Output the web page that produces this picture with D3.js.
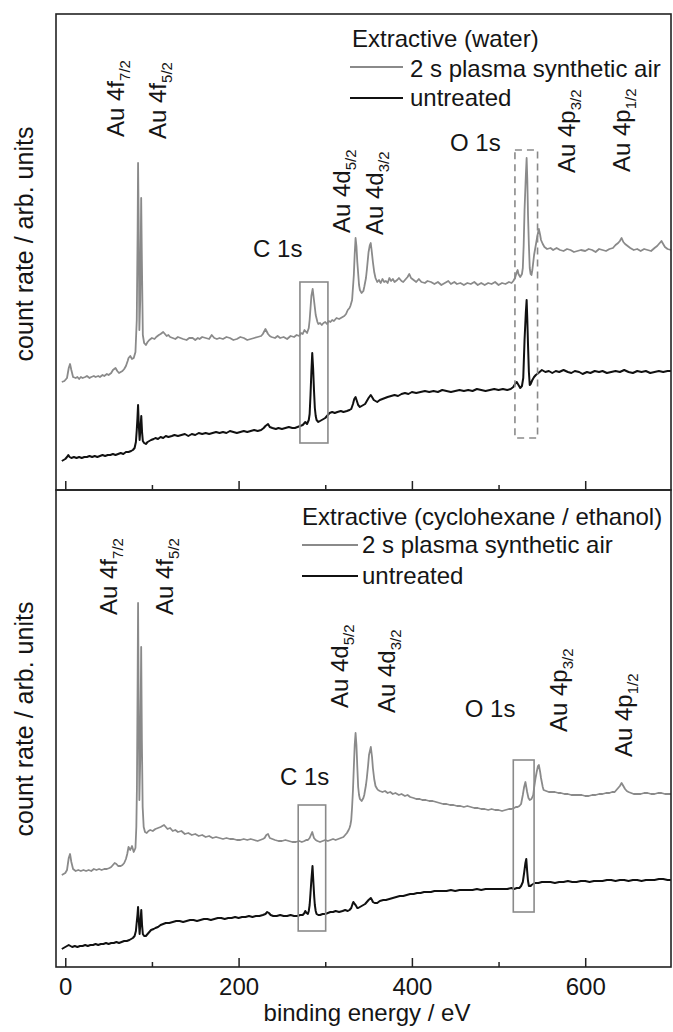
<!DOCTYPE html>
<html lang="en">
  <head>
    <title>XPS survey spectra</title>
    <meta charset="utf-8">
    <script src="https://d3js.org/d3.v7.min.js"></script>
    <style>
      body { margin: 0; background: #fff; }
      text { font-family: "Liberation Sans", Arial, sans-serif; fill: #151515; }
    </style>
  </head>
  <body>
    <div id="chart"></div>
    <script>

      // binding energy (eV), count rate (arb. units)
      const waterPlasma = [[-4,108],[-1,109],[2,112],[4,122],[5.5,126],[7,120],[9,113],[12,112],[14,113],[16,111],[18,113],[20,112],[23,113],[25,114],[28,112],[30,113],[33,114],[35,113],[38,114],[40,113],[43,115],[45,114],[48,116],[50,115],[53,117],[55,120],[58,122],[60,119],[62,117],[64,118],[66,119],[68,121],[70,124],[72,129],[73,132],[75,134],[77,131],[79,132],[81,138],[82.5,170],[83.5,260],[84,327],[84.7,270],[85.5,160],[86.5,190],[87.6,292],[88.4,230],[89.5,155],[91,147],[93,145],[95,148],[97,150],[100,152],[103,151],[105,153],[108,155],[110,156],[113,158],[115,156],[117,154],[119,155],[121,153],[124,152],[127,151],[130,153],[133,152],[136,151],[140,150],[143,152],[147,152],[150,150],[153,152],[155,151],[158,153],[162,152],[166,151],[169,155],[172,152],[175,151],[178,152],[182,151],[186,153],[190,152],[194,150],[198,151],[202,153],[206,152],[210,150],[214,151],[218,152],[222,153],[226,154],[228,156],[231,161],[234,156],[236,154],[238,153],[242,152],[245,154],[248,152],[252,153],[256,151],[260,154],[264,153],[267,155],[270,154],[272,157],[274,156],[276,160],[279,157],[281,162],[282,170],[283,182],[284,194],[285.5,201],[287,190],[289,175],[291,168],[292,166],[294,167],[296,165],[298,167],[300,168],[302,166],[304,169],[306,168],[308,170],[310,169],[313,172],[316,171],[318,172],[320,173],[322,174],[324,176],[326,180],[328,182],[329,184],[331,190],[333,215],[334,236],[335,252],[336,244],[337,228],[339,205],[340,200],[342,197],[344,199],[345,203],[347,212],[348,220],[350,238],[351.5,245],[352.5,247],[353.5,240],[355,228],[356.5,218],[358,212],[360,208],[362,210],[364,207],[366,211],[368,208],[370,209],[372,207],[374,212],[376,209],[378,211],[380,208],[383,210],[385,212],[388,209],[390,208],[393,211],[395,213],[397,216],[399,212],[402,210],[405,208],[408,211],[411,208],[415,207],[418,209],[422,208],[426,206],[430,208],[434,205],[438,207],[442,209],[445,206],[449,208],[452,206],[456,207],[460,205],[464,207],[468,206],[472,208],[476,205],[480,207],[484,205],[488,207],[492,206],[496,208],[500,205],[504,207],[508,206],[512,208],[515,207],[517,209],[519,212],[521,218],[522,220],[523,216],[525,213],[527,216],[528,222],[529,245],[530,280],[531.5,315],[532.4,332],[533.2,310],[534,275],[535,245],[536,222],[537,216],[538,215],[539,220],[541,235],[543,245],[545,255],[546.5,261],[548,255],[549,250],[551,246],[553,243],[556,241],[560,242],[563,240],[567,242],[571,240],[575,239],[579,241],[583,240],[587,238],[591,239],[595,240],[600,239],[604,241],[608,240],[612,238],[616,241],[620,240],[624,239],[628,241],[632,242],[635,245],[638,247],[640,249],[642,252],[644,248],[646,246],[649,244],[652,242],[656,240],[660,241],[664,239],[668,241],[672,240],[676,239],[680,242],[683,244],[686,247],[688,249],[690,246],[692,243],[695,241],[699,240]]

      const waterUntreated = [[-4,29],[-2,30],[0,31],[2,33],[3.5,35],[5,33],[7,32],[10,33],[13,32],[16,33],[19,32],[22,33],[25,33],[28,34],[31,33],[34,34],[37,33],[40,34],[43,35],[46,34],[49,35],[52,35],[55,36],[58,35],[61,36],[64,37],[67,36],[70,38],[73,38],[76,39],[78,40],[80,42],[81.5,48],[82.5,60],[83.3,72],[84,85],[84.8,66],[85.8,50],[86.8,62],[87.7,74],[88.6,58],[89.5,49],[91,47],[93,46],[95,48],[97,49],[99,50],[102,51],[104,52],[107,51],[110,53],[113,52],[116,54],[119,53],[123,54],[126,55],[130,54],[134,55],[138,56],[142,54],[146,56],[150,55],[154,57],[158,56],[162,57],[166,56],[170,57],[174,58],[178,57],[182,58],[186,57],[190,59],[194,58],[198,57],[202,58],[206,59],[210,58],[214,59],[218,60],[222,59],[226,60],[229,62],[231,64],[234,66],[236,63],[239,62],[243,61],[246,62],[250,61],[254,62],[258,63],[262,62],[265,62],[268,63],[271,64],[274,65],[276,67],[277,68],[279,66],[281,70],[282,76],[283,95],[284,118],[285,137],[286,122],[287,100],[288,82],[289,74],[290,70],[292,68],[294,69],[296,70],[298,71],[300,72],[302,74],[305,77],[308,78],[311,77],[314,78],[318,79],[321,78],[325,79],[328,80],[330,81],[332,86],[333.5,91],[335,93],[336.5,89],[338,85],[340,83],[342,84],[344,85],[346,86],[348,89],[350,92],[352.5,95],[354,93],[356,90],[358,89],[360,88],[363,90],[366,91],[369,92],[372,93],[376,94],[380,95],[384,94],[388,96],[392,97],[396,96],[400,98],[405,97],[410,98],[415,99],[420,98],[425,99],[430,98],[435,100],[440,99],[445,98],[450,99],[455,100],[460,99],[465,100],[470,99],[475,101],[480,100],[485,99],[490,100],[495,101],[500,100],[505,101],[510,100],[514,101],[517,103],[519,106],[521,108],[523,105],[525,102],[527,104],[528.5,112],[530,150],[531.5,178],[532.4,190],[533.2,170],[534,145],[535,118],[536,105],[537,106],[539,110],[541,113],[543,115],[546,117],[550,120],[554,118],[558,119],[562,117],[566,119],[570,118],[575,120],[580,118],[584,117],[588,119],[593,118],[597,116],[602,118],[606,117],[611,119],[616,118],[620,119],[625,117],[630,118],[635,119],[640,118],[645,120],[650,118],[655,117],[660,119],[665,118],[670,119],[675,117],[680,118],[685,119],[690,118],[695,119],[699,119]]

      const cycloPlasma = [[-4,92],[-2,93],[0,94],[2,97],[4,109],[5.5,113],[7,105],[9,98],[12,96],[15,97],[18,96],[21,97],[24,96],[27,97],[30,96],[33,98],[36,97],[39,98],[42,97],[45,98],[48,98],[51,99],[53,100],[55,102],[57,104],[59,103],[61,101],[64,101],[66,102],[68,104],[70,108],[71.5,113],[73,120],[75,117],[77,121],[79,115],[81,119],[82,140],[82.7,180],[83.5,287],[84,364],[84.7,267],[85.5,167],[86.5,207],[87.6,320],[88.4,227],[89.3,160],[90.5,140],[92,135],[94,134],[96,136],[98,137],[101,136],[104,138],[107,139],[110,140],[112,141],[114,142],[116,140],[118,138],[121,139],[124,136],[127,137],[130,135],[134,136],[138,133],[142,134],[146,132],[150,133],[154,131],[158,132],[162,130],[166,131],[170,129],[174,130],[178,129],[182,128],[186,129],[190,128],[194,128],[198,127],[202,127],[206,128],[210,127],[214,128],[218,127],[222,126],[225,127],[228,128],[230,129],[232,132],[234,133],[236,129],[239,128],[242,127],[246,126],[250,126],[254,127],[258,126],[262,125],[266,125],[270,126],[273,125],[276,126],[278,127],[280,127],[282,129],[284,133],[285,135],[286,132],[287,129],[289,127],[291,126],[294,125],[297,126],[300,127],[303,126],[306,127],[309,128],[312,127],[315,128],[318,129],[321,130],[323,132],[325,134],[327,137],[328,139],[329,142],[330,147],[331,160],[332,177],[333,200],[334,222],[335,234],[336,222],[337,200],[338,180],[339,172],[340,168],[342,166],[344,169],[345,172],[347,182],[348,189],[349.5,202],[350.5,212],[352.6,220],[354,210],[355,199],[356.5,188],[358,181],[360,178],[361,177],[363,176],[366,175],[369,176],[372,174],[375,175],[378,173],[381,174],[385,172],[388,173],[392,171],[395,172],[398,170],[402,169],[405,168],[409,168],[412,167],[416,167],[420,166],[424,166],[428,165],[432,164],[436,163],[440,163],[444,162],[448,162],[452,161],[456,161],[460,160],[464,161],[468,160],[472,159],[476,159],[480,158],[484,158],[488,157],[492,158],[496,157],[500,157],[504,156],[508,157],[512,158],[515,158],[518,159],[520,160],[522,160],[524,161],[526,163],[528,172],[529.5,180],[531,185],[532,180],[533,175],[534.5,169],[536,167],[538,168],[540,172],[541,179],[542.5,188],[544,195],[545.5,201],[546.5,202],[548,195],[549,189],[551,180],[552,177],[555,176],[558,175],[562,175],[565,175],[569,174],[572,174],[576,173],[580,173],[584,172],[588,172],[592,172],[596,172],[600,171],[604,171],[608,172],[612,172],[616,173],[620,173],[624,174],[628,174],[631,175],[634,175],[636,177],[638,179],[640,181],[642,184],[644,181],[646,178],[648,176],[650,175],[653,174],[656,173],[660,173],[664,173],[668,174],[672,174],[676,173],[680,173],[684,174],[688,174],[692,173],[695,173],[699,173]]

      const cycloUntreated = [[-4,18],[-2,19],[0,20],[2,21],[4,22],[6,21],[8,20],[11,21],[14,20],[17,21],[20,21],[23,22],[26,21],[29,22],[32,22],[35,23],[38,22],[41,23],[44,23],[47,24],[50,23],[53,24],[56,24],[59,25],[62,24],[65,25],[68,26],[71,26],[74,27],[76,28],[78,29],[80,31],[81.5,36],[82.5,45],[83.3,52],[84,60],[84.8,47],[85.8,33],[86.8,45],[87.7,57],[88.6,42],[89.5,33],[91,31],[93,31],[95,33],[97,35],[99,37],[102,38],[104,39],[107,40],[110,42],[113,43],[116,44],[120,44],[124,45],[128,46],[132,46],[136,45],[140,46],[144,47],[148,47],[152,46],[156,47],[160,48],[164,48],[168,47],[172,48],[176,49],[180,49],[184,48],[188,49],[192,49],[196,50],[200,49],[204,50],[208,50],[212,51],[216,50],[220,51],[224,51],[228,52],[231,53],[233,55],[235,54],[237,52],[240,51],[244,51],[248,52],[252,51],[256,51],[260,52],[264,51],[268,51],[271,52],[274,52],[276,54],[277,56],[278.5,54],[280,53],[281,56],[282,62],[283,74],[284,87],[285.3,101],[286.5,82],[287.3,70],[288,62],[289,56],[290,53],[292,52],[294,52],[297,53],[300,53],[303,54],[306,55],[309,55],[312,56],[316,55],[320,56],[323,57],[326,56],[328,57],[330,59],[331.5,63],[332.5,65],[334,63],[335,62],[337,59],[338,59],[340,60],[342,61],[344,62],[346,63],[348,65],[350,67],[352.6,69],[354,67],[355,65],[357,64],[360,64],[363,66],[367,67],[370,67],[374,68],[378,69],[382,70],[386,71],[390,71],[394,72],[398,73],[402,73],[406,74],[410,74],[414,75],[418,75],[422,75],[426,76],[430,76],[435,76],[440,76],[445,77],[450,76],[455,77],[460,77],[465,77],[470,77],[475,78],[480,77],[485,78],[490,78],[495,78],[500,78],[505,78],[510,78],[515,79],[518,78],[521,79],[524,79],[526,81],[528,85],[529.5,94],[531,104],[532,108],[533,96],[534,86],[535,81],[537,81],[538,82],[540,83],[542,84],[546,84],[550,85],[555,85],[560,85],[565,84],[570,85],[575,85],[580,86],[585,85],[590,85],[595,86],[600,86],[605,85],[610,86],[615,86],[620,86],[625,87],[630,87],[635,86],[640,87],[645,87],[650,86],[655,87],[660,87],[665,86],[670,87],[675,87],[680,87],[685,88],[690,88],[695,87],[699,87]]

      const majorTicks = [0, 200, 400, 600]
      const minorTicks = [100, 300, 500]
      const seriesNames = ['2 s plasma synthetic air', 'untreated']
      const panelTitles = ['Extractive (water)', 'Extractive (cyclohexane / ethanol)']

      // peak labels: [name, subscript, energy, height] per panel
      const waterPeaks = [['Au 4f','7/2',67.7,353],['Au 4f','5/2',116,351],['Au 4d','5/2',328.5,257],['Au 4d','3/2',366.5,255],['Au 4p','3/2',588,317],['Au 4p','1/2',652,318]]
      const cycloPeaks = [['Au 4f','7/2',59.7,352],['Au 4f','5/2',124.3,352],['Au 4d','5/2',326.2,259],['Au 4d','3/2',380.4,254],['Au 4p','3/2',579,235],['Au 4p','1/2',654,210]]
      const waterLines = [['C 1s',216.7,233],['O 1s',444,339]]
      const cycloLines = [['C 1s',247.7,182],['O 1s',461,250]]
      // highlight boxes: [e0, e1, v0, v1, dashed]
      const waterBoxes = [[270.8,303.1,47,208,false],[518.9,545,52,340,true]]
      const cycloBoxes = [[268.8,300.5,36,162,false],[517,541,55,207,false]]

      const largura = 673, altura = 1032
      const gray = '#8a8a8a', dark = '#111'

      const panels = [
        { top: 14, bottom: 490, yMax: 476, data: [waterPlasma, waterUntreated], title: panelTitles[0],
          peaks: waterPeaks, lines: waterLines, boxes: waterBoxes, labels: false,
          legend: { x: 350, len: 53, textX: 410, titleX: 352, titleY: 47, rows: [[67, 77], [98, 106]] }, yLabel: 244 },
        { top: 490, bottom: 967, yMax: 477, data: [cycloPlasma, cycloUntreated], title: panelTitles[1],
          peaks: cycloPeaks, lines: cycloLines, boxes: cycloBoxes, labels: true,
          legend: { x: 302, len: 56, textX: 362, titleX: 302, titleY: 525, rows: [[545, 553], [576, 584]] }, yLabel: 719 }
      ]

      const svg = d3.select('#chart')
        .append('svg')
          .attr('width', largura)
          .attr('height', altura)

      const x = d3.scaleLinear()
        .domain([-10.7, 699])
        .range([56, 671])

      panels.forEach((p, i) => {
        const y = d3.scaleLinear()
          .domain([0, p.yMax])
          .range([p.bottom, p.top])

        const g = svg.append('g')

        const line = d3.line()
          .x(d => x(d[0]))
          .y(d => y(d[1]))

        g.selectAll('path.spec')
          .data(p.data)
          .join('path')
            .attr('class', 'spec')
            .attr('d', line)
            .attr('fill', 'none')
            .attr('stroke', (d, k) => k === 0 ? gray : dark)
            .attr('stroke-width', (d, k) => k === 0 ? 1.8 : 2)
            .attr('stroke-linejoin', 'round')

        g.selectAll('rect.box')
          .data(p.boxes)
          .join('rect')
            .attr('class', 'box')
            .attr('x', d => x(d[0]))
            .attr('width', d => x(d[1]) - x(d[0]))
            .attr('y', d => y(d[3]))
            .attr('height', d => y(d[2]) - y(d[3]))
            .attr('fill', 'none')
            .attr('stroke', gray)
            .attr('stroke-width', 1.6)
            .attr('stroke-dasharray', d => d[4] ? '7,5' : null)

        // frame
        g.append('rect')
          .attr('x', x.range()[0])
          .attr('y', p.top)
          .attr('width', x.range()[1] - x.range()[0])
          .attr('height', p.bottom - p.top)
          .attr('fill', 'none')
          .attr('stroke', '#222')
          .attr('stroke-width', 1.6)

        const eixoX = g.append('g')
          .attr('transform', `translate(0, ${p.bottom})`)
          .call(d3.axisBottom(x)
            .tickValues(majorTicks)
            .tickSize(-9)
            .tickPadding(11)
            .tickFormat(p.labels ? d3.format('d') : ''))
        eixoX.select('.domain').remove()
        eixoX.attr('font-size', 24).attr('font-family', '"Liberation Sans", Arial, sans-serif')
        eixoX.selectAll('line').attr('stroke', '#222').attr('stroke-width', 1.5)
        eixoX.selectAll('text').attr('fill', '#151515')

        const eixoMenor = g.append('g')
          .attr('transform', `translate(0, ${p.bottom})`)
          .call(d3.axisBottom(x).tickValues(minorTicks).tickSize(-5).tickFormat(''))
        eixoMenor.select('.domain').remove()
        eixoMenor.selectAll('line').attr('stroke', '#222').attr('stroke-width', 1.5)

        // rotated peak labels
        p.peaks.forEach(d => {
          const t = g.append('text')
            .attr('transform', `translate(${x(d[2])}, ${y(d[3])}) rotate(-90)`)
            .attr('font-size', 24)
          t.append('tspan').text(d[0])
          t.append('tspan').attr('font-size', 15).attr('dy', 6).text(d[1])
        })

        g.selectAll('text.line-label')
          .data(p.lines)
          .join('text')
            .attr('class', 'line-label')
            .attr('x', d => x(d[1]))
            .attr('y', d => y(d[2]))
            .attr('font-size', 24)
            .text(d => d[0])

        // legend
        const lg = p.legend
        g.append('text')
          .attr('x', lg.titleX)
          .attr('y', lg.titleY)
          .attr('font-size', 24)
          .text(p.title)
        seriesNames.forEach((name, k) => {
          g.append('line')
            .attr('x1', lg.x).attr('x2', lg.x + lg.len)
            .attr('y1', lg.rows[k][0]).attr('y2', lg.rows[k][0])
            .attr('stroke', k === 0 ? gray : dark)
            .attr('stroke-width', 1.8)
          g.append('text')
            .attr('x', lg.textX)
            .attr('y', lg.rows[k][1])
            .attr('font-size', 24)
            .text(name)
        })

        g.append('text')
          .attr('transform', `translate(33, ${p.yLabel}) rotate(-90)`)
          .attr('text-anchor', 'middle')
          .attr('font-size', 25)
          .text('count rate / arb. units')
      })

      svg.append('text')
        .attr('x', 367)
        .attr('y', 1021)
        .attr('text-anchor', 'middle')
        .attr('font-size', 24)
        .text('binding energy / eV')
    </script>
  </body>
</html>
